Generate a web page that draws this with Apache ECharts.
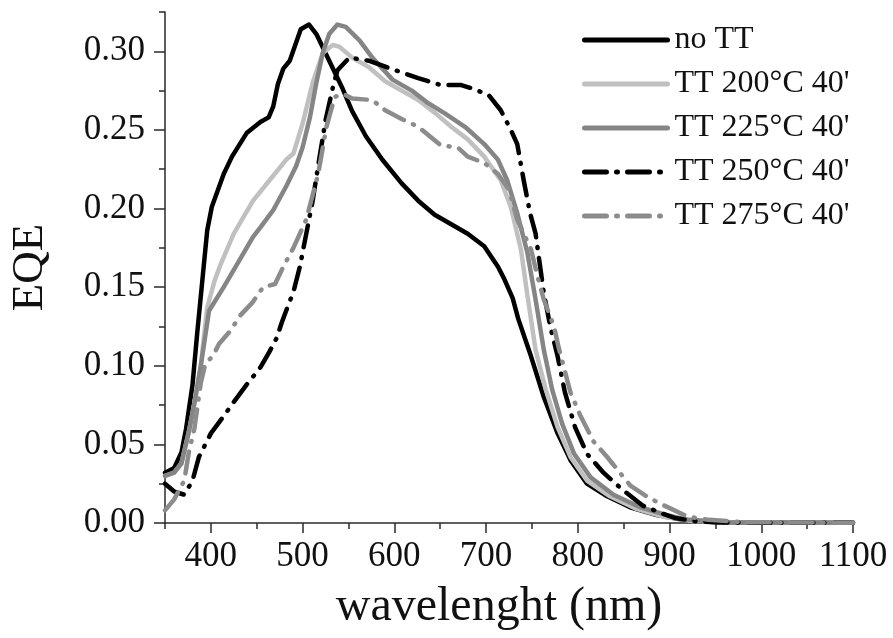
<!DOCTYPE html>
<html>
<head>
<meta charset="utf-8">
<script src="https://cdn.jsdelivr.net/npm/echarts@6/dist/echarts.min.js"></script>
<style>
html,body{margin:0;padding:0;background:#fff;}
#chart{width:893px;height:638px;}
</style>
</head>
<body>
<div id="chart"></div>
<script>
// ---- data (wavelength nm, EQE) ----
var seriesNames = ["no TT", "TT 200°C 40'", "TT 225°C 40'", "TT 250°C 40'", "TT 275°C 40'"];

var noTT = [[350,0.032],[360,0.035],[368,0.045],[373,0.060],[380,0.088],[385,0.120],[390,0.150],[396,0.186],[401,0.201],[414,0.222],[423,0.233],[439,0.248],[454,0.255],[463,0.258],[468,0.265],[473,0.279],[479,0.289],[486,0.294],[498,0.314],[507,0.317],[515,0.311],[529,0.294],[543,0.277],[554,0.262],[569,0.246],[587,0.231],[608,0.216],[626,0.205],[644,0.196],[662,0.190],[680,0.184],[698,0.176],[706,0.169],[713,0.163],[720,0.155],[729,0.143],[735,0.130],[749,0.106],[763,0.080],[778,0.057],[792,0.040],[810,0.025],[832,0.017],[857,0.010],[886,0.005],[915,0.002],[950,0.0005],[1000,0.0002],[1100,0.0001]];

var tt200 = [[350,0.030],[360,0.032],[368,0.038],[376,0.058],[382,0.076],[389,0.100],[396,0.137],[404,0.154],[411,0.165],[425,0.184],[446,0.205],[464,0.218],[482,0.231],[490,0.235],[500,0.254],[511,0.280],[522,0.299],[533,0.304],[540,0.303],[554,0.296],[572,0.290],[590,0.281],[608,0.275],[626,0.269],[644,0.261],[662,0.252],[680,0.244],[698,0.233],[716,0.218],[727,0.201],[738,0.174],[745,0.145],[754,0.110],[765,0.085],[778,0.061],[792,0.042],[810,0.027],[835,0.017],[864,0.009],[893,0.004],[921,0.0015],[960,0.0005],[1100,0.0001]];

var tt225 = [[350,0.030],[360,0.032],[368,0.038],[376,0.058],[382,0.076],[389,0.100],[398,0.135],[414,0.150],[432,0.168],[446,0.182],[454,0.188],[468,0.199],[482,0.214],[493,0.227],[500,0.239],[508,0.258],[515,0.280],[522,0.299],[529,0.311],[538,0.317],[547,0.3155],[562,0.307],[576,0.296],[598,0.282],[619,0.275],[637,0.267],[655,0.2605],[677,0.252],[698,0.241],[713,0.231],[723,0.218],[734,0.197],[745,0.172],[754,0.142],[763,0.110],[772,0.085],[783,0.063],[796,0.044],[814,0.029],[839,0.018],[868,0.010],[897,0.005],[921,0.002],[960,0.0005],[1100,0.0001]];

var tt250 = [[350,0.025],[360,0.020],[371,0.018],[380,0.027],[387,0.042],[400,0.057],[414,0.068],[425,0.077],[439,0.088],[454,0.099],[463,0.108],[472,0.118],[477,0.127],[484,0.138],[490,0.147],[497,0.163],[502,0.178],[511,0.205],[518,0.231],[525,0.256],[533,0.277],[538,0.288],[551,0.296],[572,0.294],[601,0.288],[626,0.283],[651,0.2785],[673,0.2785],[687,0.276],[703,0.272],[716,0.2625],[727,0.250],[734,0.241],[741,0.218],[748,0.197],[754,0.184],[758,0.167],[763,0.146],[770,0.125],[778,0.106],[786,0.083],[797,0.061],[810,0.044],[828,0.032],[849,0.021],[871,0.011],[892,0.006],[907,0.003],[930,0.001],[960,0.0003],[1100,0.0001]];

var tt275 = [[350,0.008],[360,0.015],[371,0.027],[376,0.045],[382,0.060],[389,0.089],[394,0.1015],[402,0.106],[409,0.114],[421,0.122],[432,0.132],[445,0.140],[457,0.150],[470,0.152],[479,0.163],[490,0.175],[504,0.193],[517,0.222],[526,0.252],[535,0.271],[544,0.273],[554,0.270],[576,0.269],[590,0.2625],[608,0.257],[626,0.252],[651,0.240],[669,0.239],[680,0.233],[698,0.229],[713,0.222],[725,0.212],[734,0.193],[749,0.174],[756,0.157],[763,0.142],[774,0.125],[779,0.112],[792,0.083],[803,0.068],[817,0.052],[832,0.042],[857,0.024],[875,0.017],[889,0.0125],[920,0.004],[943,0.002],[980,0.0005],[1100,0.0001]];

var xMajorTicks = [400,500,600,700,800,900,1000,1100];
var yMajorTicks = [0,0.05,0.10,0.15,0.20,0.25,0.30];

// ---- chart ----
var FONT = "'Liberation Serif', serif";
var AX = '#2a2a2a';
var chart = echarts.init(document.getElementById('chart'), null, {renderer:'canvas'});

function mkSeries(name, data, color, dashed){
  return {
    name: name, type: 'line', data: data, symbol: 'none', smooth: false,
    xAxisIndex: 0, yAxisIndex: 0,
    lineStyle: {color: color, width: 4.5, type: dashed ? [22, 10, 1, 10] : 'solid', cap: 'round', join: 'round'},
    itemStyle: {color: color},
    emphasis: {disabled: true}
  };
}

var option = {
  animation: false,
  backgroundColor: '#fff',
  grid: {left: 160, right: 40, top: 12, bottom: 115, containLabel: false},
  legend: {
    data: seriesNames, orient: 'vertical', left: 582, top: 24, padding: 0,
    itemWidth: 83, itemHeight: 14, itemGap: 12,
    itemStyle: {opacity: 0, borderWidth: 0},
    lineStyle: {width: 5, cap: 'round'},
    textStyle: {fontFamily: FONT, fontSize: 32, color: '#111', lineHeight: 32, padding: [0,0,0,2]}
  },
  xAxis: [{
    type: 'value', min: 350, max: 1100, position: 'bottom',
    name: 'wavelenght (nm)', nameLocation: 'middle', nameGap: 60,
    nameTextStyle: {fontFamily: FONT, fontSize: 48, color: '#111', padding: [0, 20, 0, 0]},
    axisLine: {show: true, onZero: false, lineStyle: {color: AX, width: 1.5}},
    axisTick: {show: true, length: 10, customValues: xMajorTicks, lineStyle: {color: AX, width: 1.5}},
    axisLabel: {customValues: xMajorTicks, fontFamily: FONT, fontSize: 35, color: '#111', margin: 16,
      formatter: function(v){ return String(v); }},
    splitLine: {show: false}
  },{
    type: 'value', min: 350, max: 1100, interval: 50, position: 'bottom',
    axisLine: {show: false},
    axisTick: {show: true, length: 6, lineStyle: {color: AX, width: 1.5}},
    axisLabel: {show: false}, splitLine: {show: false}
  }],
  yAxis: [{
    type: 'value', min: 0, max: 0.325, position: 'left',
    name: 'EQE', nameLocation: 'middle', nameGap: 112, nameRotate: 90,
    nameTextStyle: {fontFamily: FONT, fontSize: 45, color: '#111'},
    axisLine: {show: true, onZero: false, lineStyle: {color: AX, width: 1.5}},
    axisTick: {show: true, length: 11, customValues: yMajorTicks, lineStyle: {color: AX, width: 1.5}},
    axisLabel: {customValues: yMajorTicks, fontFamily: FONT, fontSize: 35, color: '#111', margin: 20,
      formatter: function(v){ return v.toFixed(2); }},
    splitLine: {show: false}
  },{
    type: 'value', min: 0, max: 0.325, interval: 0.025, position: 'left',
    axisLine: {show: false},
    axisTick: {show: true, length: 6, lineStyle: {color: AX, width: 1.5}},
    axisLabel: {show: false}, splitLine: {show: false}
  }],
  series: [
    mkSeries(seriesNames[0], noTT, '#000000', false),
    mkSeries(seriesNames[1], tt200, '#c0c0c0', false),
    mkSeries(seriesNames[2], tt225, '#858585', false),
    mkSeries(seriesNames[3], tt250, '#000000', true),
    mkSeries(seriesNames[4], tt275, '#8c8c8c', true)
  ]
};
chart.setOption(option);
</script>
</body>
</html>
